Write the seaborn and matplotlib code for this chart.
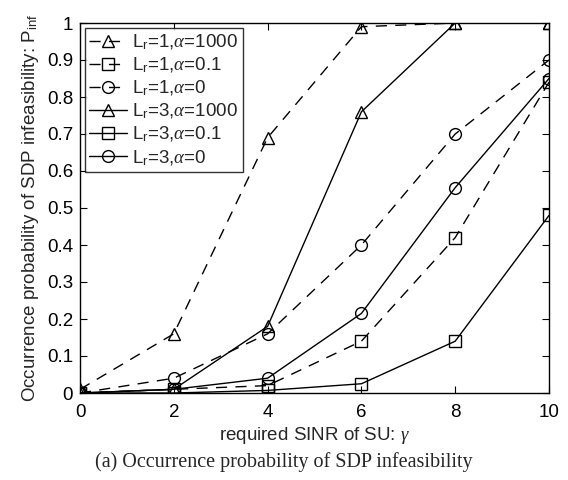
import matplotlib
matplotlib.use("Agg")
import matplotlib.pyplot as plt
import seaborn as sns
import pandas as pd
from matplotlib.ticker import FuncFormatter, MultipleLocator

gamma = [0, 2, 4, 6, 8, 10]
l1_a1000 = [0.01, 0.16, 0.69, 0.99, 1.0, 1.0]
l1_a01 = [0.0, 0.01, 0.02, 0.14, 0.42, 0.84]
l1_a0 = [0.0, 0.04, 0.16, 0.40, 0.70, 0.90]
l3_a1000 = [0.0, 0.01, 0.18, 0.76, 1.0, 1.0]
l3_a01 = [0.0, 0.0, 0.007, 0.025, 0.14, 0.48]
l3_a0 = [0.0, 0.01, 0.04, 0.215, 0.555, 0.85]

labels = [r'L$_\mathrm{r}$=1,$\alpha$=1000', r'L$_\mathrm{r}$=1,$\alpha$=0.1', r'L$_\mathrm{r}$=1,$\alpha$=0',
          r'L$_\mathrm{r}$=3,$\alpha$=1000', r'L$_\mathrm{r}$=3,$\alpha$=0.1', r'L$_\mathrm{r}$=3,$\alpha$=0']
series = [l1_a1000, l1_a01, l1_a0, l3_a1000, l3_a01, l3_a0]
markers = ['^', 's', 'o', '^', 's', 'o']
styles = [(0, (8, 6)), (0, (8, 6)), (0, (8, 6)), '-', '-', '-']

sns.set_theme(style="ticks")
plt.rcParams['font.family'] = ['Liberation Sans', 'DejaVu Sans']
plt.rcParams['mathtext.fontset'] = 'custom'
plt.rcParams['mathtext.rm'] = 'Liberation Sans'
plt.rcParams['mathtext.it'] = 'Liberation Serif:italic'

fs = 13.5
fig = plt.figure(figsize=(5.68, 4.80), dpi=100)
ax = fig.add_axes([80/568, 1-393/480, (549-80)/568, (393-23)/480])

for vals, lab, m, ls in zip(series, labels, markers, styles):
    df = pd.DataFrame({'gamma': gamma, 'p': vals})
    sns.lineplot(data=df, x='gamma', y='p', ax=ax, color='black', linestyle=ls,
                 marker=m, markersize=8.5, markerfacecolor='none', markeredgecolor='black',
                 markeredgewidth=1.0, linewidth=1.0, label=lab)

ax.set_xlim(0, 10)
ax.set_ylim(0, 1)
ax.xaxis.set_major_locator(MultipleLocator(2))
ax.yaxis.set_major_locator(MultipleLocator(0.1))
ax.yaxis.set_major_formatter(FuncFormatter(lambda v, p: '%g' % round(v, 2)))
ax.tick_params(direction='in', top=True, right=True, labelsize=fs, length=5, width=0.8,
               colors='black')
ax.tick_params(axis='x', pad=8)
ax.tick_params(axis='y', pad=5)
for s in ax.spines.values():
    s.set_visible(True)
    s.set_color('black')
    s.set_linewidth(1.0)
ax.set_xlabel(r'required SINR of SU: $\it{\gamma}$', fontsize=fs, labelpad=3)
ax.set_ylabel(r'Occurrence probability of SDP infeasibility: P$_\mathrm{inf}$', fontsize=fs, labelpad=4)

leg = ax.legend(loc='upper left', fontsize=fs, frameon=True, fancybox=False, edgecolor='black',
                handlelength=2.0, labelspacing=0.2, borderpad=0.25, handletextpad=0.3,
                borderaxespad=0.25)
leg.get_frame().set_linewidth(1.0)

fig.text(0.5, 1-462/480, '(a) Occurrence probability of SDP infeasibility',
         family='Liberation Serif', fontsize=14.5, ha='center', va='center')

fig.savefig('out.png', dpi=100)
